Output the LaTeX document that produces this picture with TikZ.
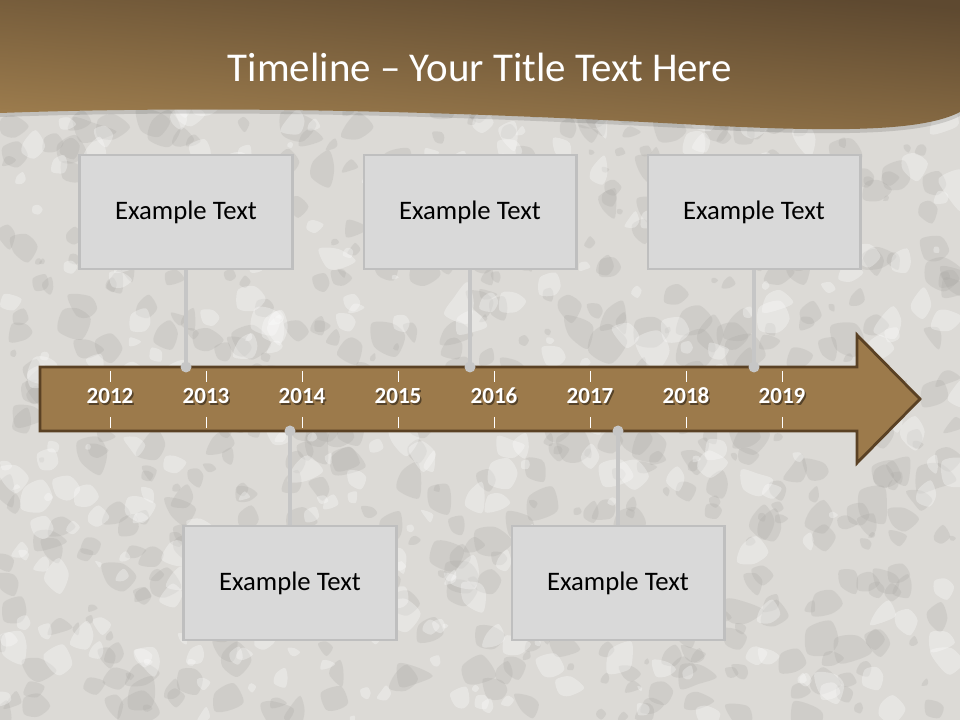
\documentclass[tikz,border=0pt]{standalone}
\usepackage{fontspec}
\setmainfont{Carlito}
\usetikzlibrary{positioning,calc}
\definecolor{grnt}{HTML}{DCDAD6}
\definecolor{spot}{HTML}{A9A7A3}
\definecolor{hdrlt}{HTML}{A07F4F}
\definecolor{hdrdk}{HTML}{5E4930}
\definecolor{arr}{HTML}{9C7A4B}
\definecolor{arrln}{HTML}{5A4124}
\definecolor{boxf}{HTML}{D9D9D9}
\definecolor{boxl}{HTML}{BFBFBF}
\definecolor{pincol}{HTML}{C6C6C6}
\tikzset{
  evt/.style={draw=boxl, line width=2.1pt, fill=boxf, minimum width=5.3cm, minimum height=2.85cm, font=\fontsize{19}{22}\selectfont},
  yr/.style={font=\fontsize{16.4}{19}\selectfont\bfseries, text=white, anchor=base},
  tck/.style={white, line width=0.6pt},
  stem/.style={draw=pincol, line width=2.9pt}}

\begin{document}
\begin{tikzpicture}[x=0.025cm, y=-0.025cm]
\useasboundingbox (0,0) rectangle (960,720);
% granite background
\fill[grnt] (0,0) rectangle (960,720);
\pgfmathsetseed{11}
\begin{scope}
\clip (0,100) rectangle (960,720);
\foreach \i in {1,...,600} {
  \pgfmathsetmacro{\bx}{rnd*960}
  \pgfmathsetmacro{\by}{100+rnd*620}
  \pgfmathsetmacro{\s}{3+rnd*14}
  \pgfmathsetmacro{\ra}{\s*(0.5+rnd)}
  \pgfmathsetmacro{\rb}{\s*(0.5+rnd)}
  \pgfmathsetmacro{\rc}{\s*(0.5+rnd)}
  \pgfmathsetmacro{\rd}{\s*(0.5+rnd)}
  \pgfmathsetmacro{\re}{\s*(0.5+rnd)}
  \fill[spot, opacity=0.24] plot[smooth cycle] coordinates {(\bx+\ra,\by) (\bx+0.31*\rb,\by+0.95*\rb) (\bx-0.81*\rc,\by+0.59*\rc) (\bx-0.81*\rd,\by-0.59*\rd) (\bx+0.31*\re,\by-0.95*\re)};}
\foreach \i in {1,...,320} {
  \pgfmathsetmacro{\bx}{rnd*960}
  \pgfmathsetmacro{\by}{100+rnd*620}
  \pgfmathsetmacro{\s}{3+rnd*13}
  \pgfmathsetmacro{\ra}{\s*(0.5+rnd)}
  \pgfmathsetmacro{\rb}{\s*(0.5+rnd)}
  \pgfmathsetmacro{\rc}{\s*(0.5+rnd)}
  \pgfmathsetmacro{\rd}{\s*(0.5+rnd)}
  \pgfmathsetmacro{\re}{\s*(0.5+rnd)}
  \fill[white, opacity=0.3] plot[smooth cycle] coordinates {(\bx+\ra,\by) (\bx+0.31*\rb,\by+0.95*\rb) (\bx-0.81*\rc,\by+0.59*\rc) (\bx-0.81*\rd,\by-0.59*\rd) (\bx+0.31*\re,\by-0.95*\re)};}
\end{scope}
% header
\fill[black, opacity=0.12] (0,117) .. controls (250,108) and (500,118) .. (700,129) .. controls (850,137) and (925,134) .. (960,116) -- (960,0) -- (0,0) -- cycle;
\shade[top color=hdrdk, bottom color=hdrlt, shading angle=-5] (0,113) .. controls (250,104) and (500,114) .. (700,125) .. controls (850,133) and (925,130) .. (960,112) -- (960,0) -- (0,0) -- cycle;
\node[text=white, font=\fontsize{29.1}{34}\selectfont] (title) at (480,67) {Timeline -- Your Title Text Here};
% arrow
\draw[arrln, line width=2pt, fill=arr] (40,367) -- (857,367) -- (857,335) -- (920,399) -- (857,463) -- (857,431) -- (40,431) -- cycle;
\coordinate (atop) at (0,367);
\coordinate (abot) at (0,431);
\foreach \y [count=\i from 0] in {2012,2013,2014,2015,2016,2017,2018,2019} {
  \draw[tck] (110+96*\i,371) -- (110+96*\i,382);
  \draw[tck] (110+96*\i,417) -- (110+96*\i,428);
  \node[yr, text=black, opacity=0.45] at (111.5+96*\i,405.5) {\y};
  \node[yr] (y\y) at (110+96*\i,404) {\y};}
% events
\node[evt] (e1) at (186,212) {Example Text};
\node[evt] (e2) at (470,212) {Example Text};
\node[evt] (e3) at (754,212) {Example Text};
\node[evt] (e4) at (290,583) {Example Text};
\node[evt] (e5) at (618,583) {Example Text};
\foreach \e in {e1,e2,e3} {
  \coordinate (p\e) at (\e.south |- atop);
  \draw[stem] (\e.south) -- (p\e);
  \fill[pincol] (p\e) circle[radius=5.5];}
\foreach \e in {e4,e5} {
  \coordinate (p\e) at (\e.north |- abot);
  \draw[stem] (\e.north) -- (p\e);
  \fill[pincol] (p\e) circle[radius=5.5];}
\end{tikzpicture}
\end{document}
